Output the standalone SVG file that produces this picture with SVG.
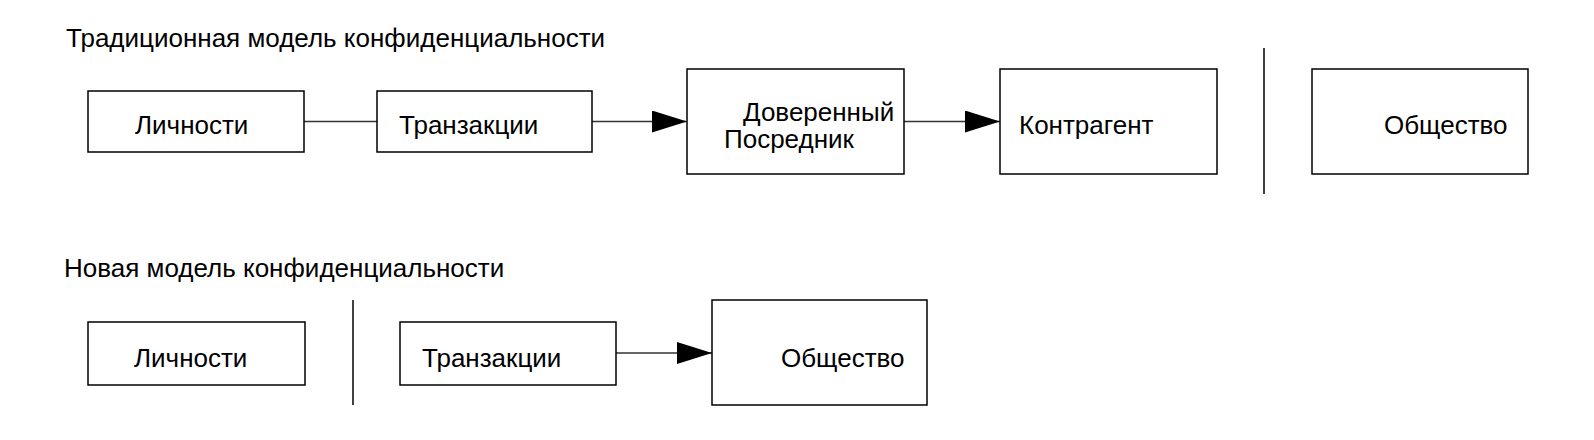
<svg xmlns="http://www.w3.org/2000/svg" width="1594" height="440" viewBox="0 0 1594 440">
  <style>
    text { font-family: "Liberation Sans", Arial, sans-serif; font-size: 26px; fill: #000; }
    .box { fill: #fff; stroke: #000; stroke-width: 1.5; }
    .conn { stroke: #333; stroke-width: 1.3; fill: none; }
    .sep { stroke: #000; stroke-width: 1.5; }
  </style>
  <defs>
    <marker id="arrow" markerWidth="36" markerHeight="22" refX="35" refY="11" orient="auto" markerUnits="userSpaceOnUse">
      <path d="M0,0 L35,11 L0,22 Z" fill="#000"/>
    </marker>
  </defs>
  <rect width="1594" height="440" fill="#fff"/>

  <text id="title1" x="66" y="47">Традиционная модель конфиденциальности</text>
  <text id="title2" x="64" y="277">Новая модель конфиденциальности</text>

  <g id="connectors">
    <line class="conn" x1="304" y1="121.5" x2="377" y2="121.5"/>
    <line class="conn" x1="592" y1="121.5" x2="687" y2="121.5" marker-end="url(#arrow)"/>
    <line class="conn" x1="904" y1="121.5" x2="1000" y2="121.5" marker-end="url(#arrow)"/>
    <line class="conn" x1="616" y1="353" x2="712" y2="353" marker-end="url(#arrow)"/>
  </g>

  <g id="separators">
    <line class="sep" x1="1264" y1="48" x2="1264" y2="194"/>
    <line class="sep" x1="353" y1="300" x2="353" y2="405"/>
  </g>

  <g id="lichnosti1">
    <rect class="box" x="88" y="91" width="216" height="61"/>
    <text x="135" y="134">Личности</text>
  </g>
  <g id="tranzakcii1">
    <rect class="box" x="377" y="91" width="215" height="61"/>
    <text x="399" y="134">Транзакции</text>
  </g>
  <g id="posrednik">
    <rect class="box" x="687" y="69" width="217" height="105"/>
    <text x="743" y="121">Доверенный</text>
    <text x="724" y="148">Посредник</text>
  </g>
  <g id="kontragent">
    <rect class="box" x="1000" y="69" width="217" height="105"/>
    <text x="1019" y="134">Контрагент</text>
  </g>
  <g id="obshchestvo1">
    <rect class="box" x="1312" y="69" width="216" height="105"/>
    <text x="1384" y="134">Общество</text>
  </g>

  <g id="lichnosti2">
    <rect class="box" x="88" y="322" width="217" height="63"/>
    <text x="134" y="367">Личности</text>
  </g>
  <g id="tranzakcii2">
    <rect class="box" x="400" y="322" width="216" height="63"/>
    <text x="422" y="367">Транзакции</text>
  </g>
  <g id="obshchestvo2">
    <rect class="box" x="712" y="300" width="215" height="105"/>
    <text x="781" y="367">Общество</text>
  </g>
</svg>
